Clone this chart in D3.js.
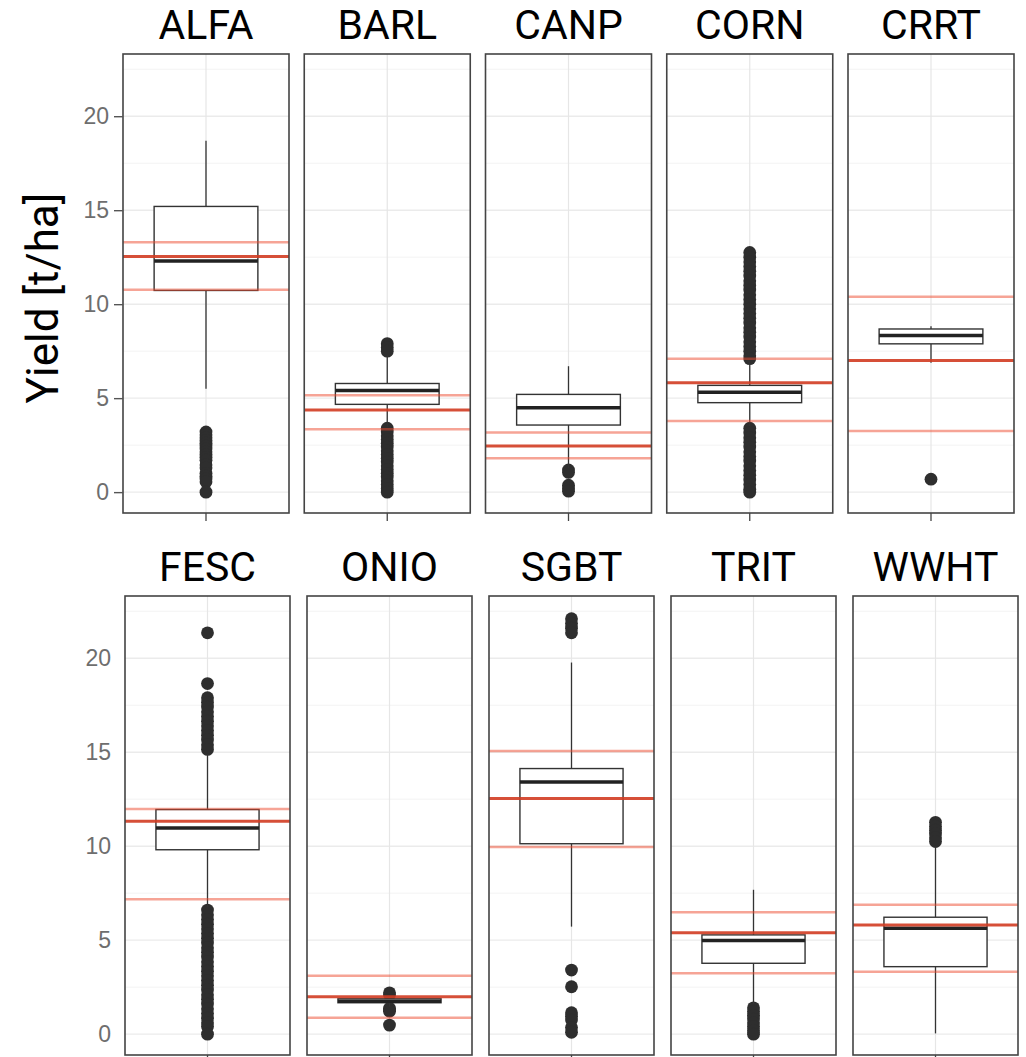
<!DOCTYPE html>
<html>
<head>
<meta charset="utf-8">
<script src="https://cdn.jsdelivr.net/npm/d3@7"></script>
<style>
  body { margin: 0; background: #fff; }
</style>
</head>
<body>
<div id="chart"></div>
<script>
// crop codes, one panel each
const crops = ["ALFA", "BARL", "CANP", "CORN", "CRRT", "FESC", "ONIO", "SGBT", "TRIT", "WWHT"];

// box plot stats (t/ha)
const whiskerLow  = [5.5, 3.45, 1.3, 3.5, 6.88, 6.75, 1.45, 5.72, 1.6, 0.04];
const q1          = [10.73, 4.67, 3.57, 4.76, 7.89, 9.81, 1.67, 10.13, 3.77, 3.59];
const median      = [12.3, 5.41, 4.49, 5.32, 8.33, 10.97, 1.75, 13.42, 4.98, 5.63];
const q3          = [15.2, 5.78, 5.2, 5.68, 8.68, 11.95, 1.88, 14.13, 5.28, 6.22];
const whiskerHigh = [18.7, 7.3, 6.7, 6.9, 8.82, 14.9, 2.02, 19.77, 7.68, 10.0];

// reference lines: middle (dark) and lower / upper (light)
const refMid  = [12.54, 4.37, 2.46, 5.82, 7.0, 11.32, 1.99, 12.53, 5.4, 5.81];
const refLow  = [10.77, 3.34, 1.8, 3.78, 3.25, 7.18, 0.87, 9.96, 3.24, 3.32];
const refHigh = [13.3, 5.15, 3.17, 7.1, 10.4, 11.98, 3.11, 15.06, 6.49, 6.88];

// outlying yields
const outliers = [
  [3.2, 3.05, 2.9, 2.75, 2.6, 2.45, 2.3, 2.15, 2.0, 1.85, 1.7, 1.45, 1.3, 1.0, 0.85, 0.7, 0.55, 0.0],
  [7.9, 7.7, 7.5, 3.4, 3.2, 3.0, 2.8, 2.6, 2.4, 2.2, 2.0, 1.8, 1.6, 1.4, 1.2, 1.0, 0.8, 0.6, 0.4, 0.2, 0.0],
  [1.18, 1.05, 0.37, 0.2, 0.05],
  [12.75, 12.5, 12.25, 12.0, 11.75, 11.5, 11.25, 11.0, 10.75, 10.5, 10.25, 10.0, 9.75, 9.5, 9.25, 9.0,
   8.75, 8.5, 8.25, 8.0, 7.75, 7.5, 7.25, 7.1,
   3.4, 3.15, 2.9, 2.65, 2.4, 2.15, 1.9, 1.65, 1.4, 1.15, 0.9, 0.65, 0.4, 0.15, 0.0],
  [0.69],
  [21.35, 18.65, 17.9, 17.65, 17.4, 17.15, 16.9, 16.65, 16.4, 16.15, 15.9, 15.65, 15.4, 15.15,
   6.6, 6.35, 6.1, 5.85, 5.6, 5.35, 5.1, 4.85, 4.6, 4.35, 4.1, 3.85, 3.6, 3.35, 3.1, 2.85, 2.6,
   2.35, 2.1, 1.85, 1.6, 1.35, 1.1, 0.85, 0.6, 0.4, 0.0],
  [2.2, 2.1, 1.38, 1.3, 1.22, 0.48],
  [22.1, 21.85, 21.6, 21.35, 3.41, 2.52, 1.14, 0.95, 0.75, 0.35, 0.1],
  [1.4, 1.2, 1.0, 0.8, 0.6, 0.4, 0.2, 0.0],
  [11.27, 11.05, 10.85, 10.65, 10.45, 10.25]
];

const yTicks = [0, 5, 10, 15, 20];
const yMinor = [2.5, 7.5, 12.5, 17.5, 22.5];
const yDomain = [-1.11, 23.31];

const width = 1026;
const height = 1057;

// two rows of five panels
const rows = [
  { left: 123, step: 181.25, w: 166, top: 54, bottom: 513, ticks: true },
  { left: 125, step: 182, w: 165, top: 596, bottom: 1055, ticks: false }
];

const titleFont = "Roboto, 'Liberation Sans', sans-serif";
const tickFont = "'Liberation Sans', Arial, sans-serif";

let svg = d3.select('#chart')
  .append('svg')
    .attr('width', width)
    .attr('height', height)
    .style('font-family', titleFont);

const data = crops.map((c, i) => ({
  crop: c, i: i,
  lo: whiskerLow[i], q1: q1[i], med: median[i], q3: q3[i], hi: whiskerHigh[i],
  rMid: refMid[i], rLow: refLow[i], rHigh: refHigh[i],
  out: outliers[i]
}));

data.forEach(function(d) {
  const r = rows[Math.floor(d.i / 5)];
  const col = d.i % 5;
  const x0 = r.left + col * r.step;

  const xScale = d3.scaleLinear().domain([0.4, 1.6]).range([0, r.w]);
  const yScale = d3.scaleLinear().domain(yDomain).range([r.bottom - r.top, 0]);

  let g = svg.append('g')
    .attr('transform', `translate(${x0}, ${r.top})`);

  // panel background + grid
  g.append('rect')
    .attr('width', r.w)
    .attr('height', r.bottom - r.top)
    .attr('fill', '#fff');

  g.selectAll('.minor')
    .data(yMinor)
    .enter()
      .append('line')
        .attr('x1', 0).attr('x2', r.w)
        .attr('y1', v => yScale(v)).attr('y2', v => yScale(v))
        .attr('stroke', '#f3f3f3')
        .attr('stroke-width', 1);

  g.selectAll('.major')
    .data(yTicks)
    .enter()
      .append('line')
        .attr('x1', 0).attr('x2', r.w)
        .attr('y1', v => yScale(v)).attr('y2', v => yScale(v))
        .attr('stroke', '#ebebeb')
        .attr('stroke-width', 1.4);

  g.append('line')
    .attr('x1', xScale(1)).attr('x2', xScale(1))
    .attr('y1', 0).attr('y2', r.bottom - r.top)
    .attr('stroke', '#e6e6e6')
    .attr('stroke-width', 1.2);

  // outliers
  g.selectAll('.out')
    .data(d.out)
    .enter()
      .append('circle')
        .attr('cx', xScale(1))
        .attr('cy', v => yScale(v))
        .attr('r', 6.4)
        .attr('fill', '#2e2e2e');

  // whiskers
  g.append('line')
    .attr('x1', xScale(1)).attr('x2', xScale(1))
    .attr('y1', yScale(d.q3)).attr('y2', yScale(d.hi))
    .attr('stroke', '#333').attr('stroke-width', 1.3);
  g.append('line')
    .attr('x1', xScale(1)).attr('x2', xScale(1))
    .attr('y1', yScale(d.q1)).attr('y2', yScale(d.lo))
    .attr('stroke', '#333').attr('stroke-width', 1.3);

  // box
  g.append('rect')
    .attr('x', xScale(0.625))
    .attr('width', xScale(1.375) - xScale(0.625))
    .attr('y', yScale(d.q3))
    .attr('height', yScale(d.q1) - yScale(d.q3))
    .attr('fill', '#fff')
    .attr('stroke', '#333')
    .attr('stroke-width', 1.4);

  g.append('line')
    .attr('x1', xScale(0.625)).attr('x2', xScale(1.375))
    .attr('y1', yScale(d.med)).attr('y2', yScale(d.med))
    .attr('stroke', '#222')
    .attr('stroke-width', 3.5);

  // red reference lines
  [d.rLow, d.rHigh].forEach(function(v) {
    g.append('line')
      .attr('x1', 0).attr('x2', r.w)
      .attr('y1', yScale(v)).attr('y2', yScale(v))
      .attr('stroke', '#ee4a2e')
      .attr('stroke-opacity', 0.5)
      .attr('stroke-width', 2.5);
  });
  g.append('line')
    .attr('x1', 0).attr('x2', r.w)
    .attr('y1', yScale(d.rMid)).attr('y2', yScale(d.rMid))
    .attr('stroke', '#d23c22')
    .attr('stroke-opacity', 0.9)
    .attr('stroke-width', 3);

  // border
  g.append('rect')
    .attr('width', r.w)
    .attr('height', r.bottom - r.top)
    .attr('fill', 'none')
    .attr('stroke', '#444')
    .attr('stroke-width', 1.6);

  // x tick under panel
  g.append('line')
    .attr('x1', xScale(1)).attr('x2', xScale(1))
    .attr('y1', r.bottom - r.top).attr('y2', r.bottom - r.top + 8)
    .attr('stroke', '#444')
    .attr('stroke-width', 1.3);

  // facet title
  svg.append('text')
    .attr('x', x0 + r.w / 2)
    .attr('y', r.top - 15.5)
    .attr('text-anchor', 'middle')
    .style('font-size', '41px')
    .style('fill', '#000')
    .text(d.crop);

  // y axis on first column
  if (col === 0) {
    let axis = d3.axisLeft(yScale)
      .tickValues(yTicks)
      .tickSize(r.ticks ? 9 : 0)
      .tickPadding(r.ticks ? 5 : 14);
    let ax = g.append('g').call(axis);
    ax.select('.domain').remove();
    ax.selectAll('.tick line').attr('stroke', '#555').attr('stroke-width', 1.4);
    ax.selectAll('.tick text')
      .style('font-family', tickFont)
      .style('font-size', '23px')
      .attr('fill', '#6e6e6e');
  }
});

// y axis label
svg.append('text')
  .attr('transform', 'translate(58, 298) rotate(-90)')
  .attr('text-anchor', 'middle')
  .style('font-size', '44px')
  .style('fill', '#000')
  .text('Yield [t/ha]');
</script>
</body>
</html>
